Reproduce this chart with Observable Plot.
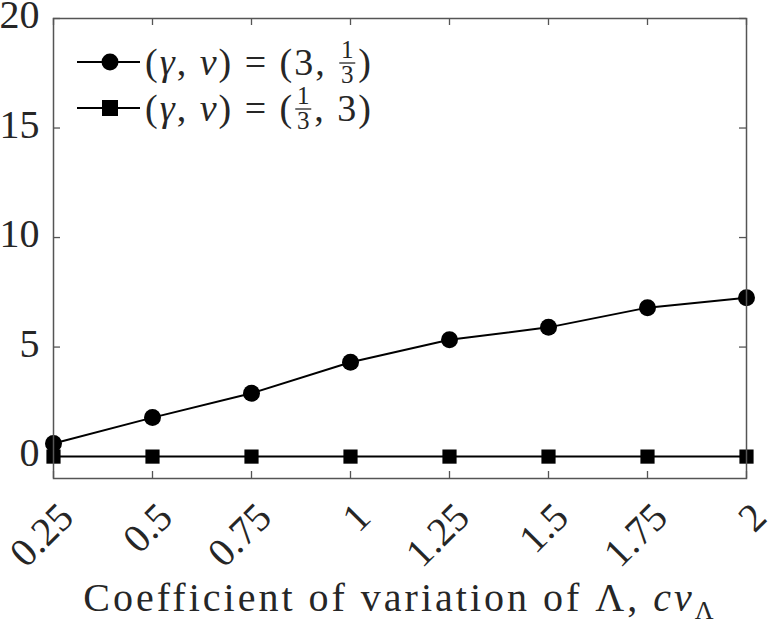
<!DOCTYPE html>
<html>
<head>
<meta charset="utf-8">
<script src="https://cdn.jsdelivr.net/npm/d3@7"></script>
<script src="https://cdn.jsdelivr.net/npm/@observablehq/plot@0.6"></script>
<style>
  html, body { margin: 0; padding: 0; background: #fff; }
  #chart { width: 772px; height: 632px; }
</style>
</head>
<body>
<div id="chart"></div>
<script>
const cvValues = [0.25, 0.5, 0.75, 1, 1.25, 1.5, 1.75, 2];
const seriesA = [0.6, 1.78, 2.89, 4.31, 5.33, 5.9, 6.8, 7.25];   // (γ,ν) = (3, 1/3)
const seriesB = [0, 0, 0, 0, 0, 0, 0, 0];                       // (γ,ν) = (1/3, 3)
const xTicks = [0.25, 0.5, 0.75, 1, 1.25, 1.5, 1.75, 2];
const xTickLabels = ["0.25", "0.5", "0.75", "1", "1.25", "1.5", "1.75", "2"];
const yTicks = [0, 5, 10, 15, 20];
const yTickLabels = ["0", "5", "10", "15", "20"];

const dataA = cvValues.map((x, i) => ({x, y: seriesA[i]}));
const dataB = cvValues.map((x, i) => ({x, y: seriesB[i]}));

const W = 772, H = 632;
const mL = 53, mR = 26, mT = 18, mB = 154;
const plotW = W - mL - mR, plotH = H - mT - mB;
const FONT = "'Liberation Serif', 'DejaVu Serif', serif";
const TXT = "#262626";
const AX = "#555";

const chart = Plot.plot({
  width: W, height: H,
  marginLeft: mL, marginRight: mR, marginTop: mT, marginBottom: mB,
  style: {fontFamily: FONT, background: "#fff", color: TXT},
  x: {type: "linear", domain: [0.25, 2], axis: null},
  y: {type: "linear", domain: [-1, 20], axis: null},
  marks: [
    Plot.ruleX(xTicks, {x: d => d, insetTop: plotH - 7, stroke: AX, strokeWidth: 1.3}),
    Plot.ruleX(xTicks, {x: d => d, insetBottom: plotH - 7, stroke: AX, strokeWidth: 1.3}),
    Plot.ruleY(yTicks, {y: d => d, insetRight: plotW - 7, stroke: AX, strokeWidth: 1.3}),
    Plot.ruleY(yTicks, {y: d => d, insetLeft: plotW - 7, stroke: AX, strokeWidth: 1.3}),
    Plot.line(dataA, {x: "x", y: "y", stroke: "#000", strokeWidth: 2}),
    Plot.line(dataB, {x: "x", y: "y", stroke: "#000", strokeWidth: 2}),
    Plot.dot(dataA, {x: "x", y: "y", r: 8.5, fill: "#000", stroke: "none"}),
    Plot.dot(dataB, {x: "x", y: "y", r: 8, symbol: "square", fill: "#000", stroke: "none"}),
    Plot.frame({stroke: AX, strokeWidth: 1.5}),
    Plot.text(yTicks, {y: d => d, text: (d, i) => yTickLabels[i], frameAnchor: "left",
      textAnchor: "end", lineAnchor: "middle", dx: -14, dy: -3, fontSize: 40, fill: TXT}),
    Plot.text(xTicks, {x: d => d, text: (d, i) => xTickLabels[i], frameAnchor: "bottom",
      textAnchor: "end", lineAnchor: "middle", rotate: -45, dx: 13, dy: 32, fontSize: 40, fill: TXT}),
    Plot.text(["Coefficient of variation of Λ, "], {text: d => d, frameAnchor: "bottom",
      lineAnchor: "middle", textAnchor: "middle", dy: 120, fontSize: 40, fill: TXT,
      className: "xlabel"})
  ]
});

document.getElementById("chart").appendChild(chart);

const svg = d3.select(chart);
const lab = svg.select(".xlabel text");
if (!lab.empty()) {
  lab.text(null).attr("letter-spacing", "3px");
  lab.append("tspan").text("Coefficient of variation of Λ, ");
  lab.append("tspan").attr("font-style", "italic").text("cv");
  lab.append("tspan").attr("font-size", 26).attr("dy", "0.3em").text("Λ");
}

// Legend (inside the axes, top-left)
const legendRows = [
  {symbol: "circle", fracFirst: false},
  {symbol: "square", fracFirst: true}
];
const lg = svg.append("g").attr("font-family", FONT).attr("fill", TXT).attr("text-anchor", "start");
const rowY = [62, 108];
legendRows.forEach((r, i) => {
  const y = rowY[i];
  const g = lg.append("g");
  g.append("line").attr("x1", 77).attr("x2", 140).attr("y1", y).attr("y2", y)
    .attr("stroke", "#000").attr("stroke-width", 2);
  if (r.symbol === "circle") {
    g.append("circle").attr("cx", 110).attr("cy", y).attr("r", 8.5).attr("fill", "#000");
  } else {
    g.append("rect").attr("x", 102).attr("y", y - 8).attr("width", 16).attr("height", 16).attr("fill", "#000");
  }
  const fs = 38;
  const t = g.append("text").attr("x", 145).attr("y", y).attr("dy", "0.33em")
    .attr("font-size", fs).attr("text-anchor", "start").attr("letter-spacing", "2px");
  t.append("tspan").text("(");
  t.append("tspan").attr("font-style", "italic").text("γ");
  t.append("tspan").text(", ");
  t.append("tspan").attr("font-style", "italic").text("ν");
  t.append("tspan").text(") = ");
  t.append("tspan").text(r.fracFirst ? "(" : "(3, ");
  const bb = t.node().getComputedTextLength();
  const fx = 145 + bb + 1;
  const fw = 16;
  g.append("text").attr("x", fx + fw / 2).attr("y", y - 4).attr("text-anchor", "middle")
    .attr("font-size", 25).text("1");
  g.append("line").attr("x1", fx).attr("x2", fx + fw).attr("y1", y + 1).attr("y2", y + 1)
    .attr("stroke", TXT).attr("stroke-width", 1.3);
  g.append("text").attr("x", fx + fw / 2).attr("y", y + 21).attr("text-anchor", "middle")
    .attr("font-size", 25).text("3");
  g.append("text").attr("x", fx + fw + 3).attr("y", y).attr("dy", "0.33em").attr("font-size", fs)
    .attr("text-anchor", "start").attr("letter-spacing", "2px")
    .text(r.fracFirst ? ", 3)" : ")");
});
</script>
</body>
</html>
